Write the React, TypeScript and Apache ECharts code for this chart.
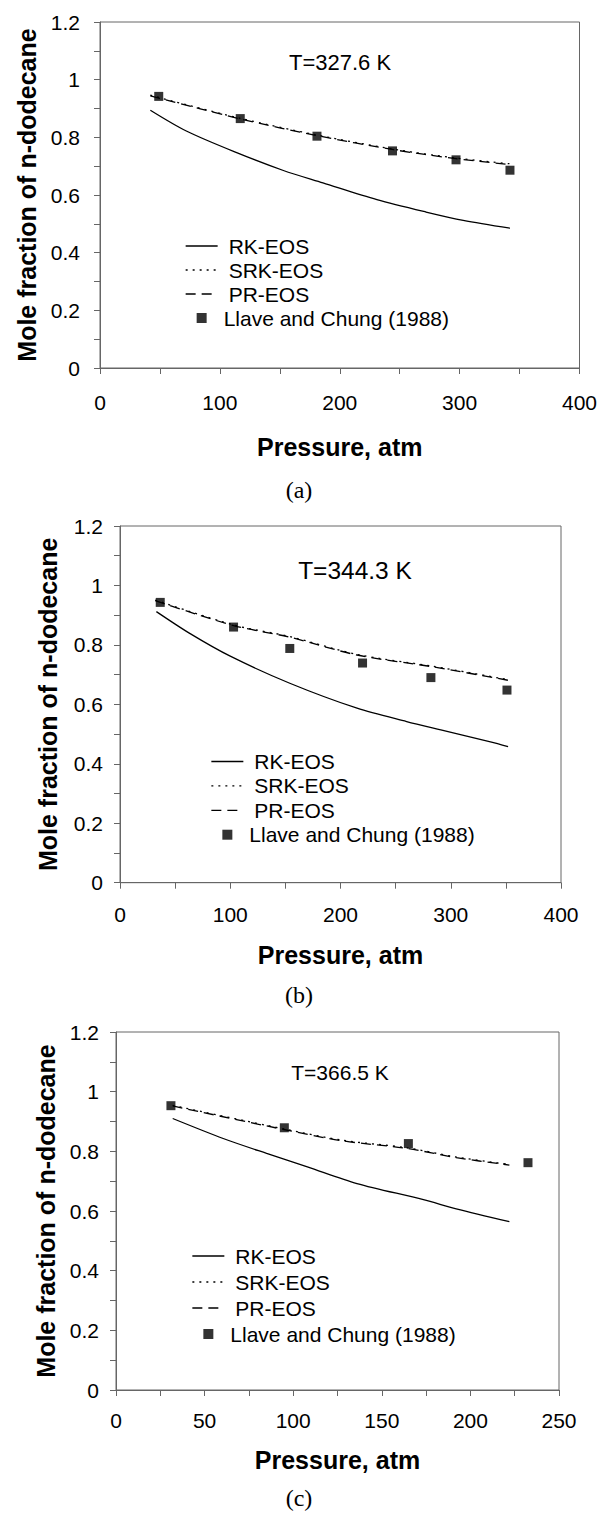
import React, { useEffect, useRef } from "react";
import * as echarts from "echarts";

const SANS = '"Liberation Sans", Arial, sans-serif';
const SERIF = '"Liberation Serif", "Times New Roman", serif';

const seriesNames = ["RK-EOS", "SRK-EOS", "PR-EOS", "Llave and Chung (1988)"];
const yTitle = "Mole fraction of n-dodecane";
const xTitle = "Pressure, atm";

// Panel (a) T = 327.6 K
const rkA = [[42, 0.894], [72, 0.822], [114, 0.747], [153, 0.685], [186, 0.642], [231, 0.584], [272, 0.541], [303, 0.512], [342, 0.485]];
const srkA = [[42, 0.946], [117, 0.866], [181, 0.808], [245, 0.759], [297, 0.728], [343, 0.708]];
const prA = [[42, 0.944], [117, 0.864], [181, 0.806], [245, 0.757], [297, 0.726], [343, 0.705]];
const expA = [[49, 0.942], [117, 0.865], [181, 0.804], [244, 0.753], [297, 0.722], [342, 0.686]];

// Panel (b) T = 344.3 K
const rkB = [[33, 0.912], [64, 0.837], [100, 0.762], [154, 0.671], [215, 0.587], [260, 0.542], [291, 0.514], [336, 0.474], [352, 0.458]];
const srkB = [[32, 0.951], [103, 0.867], [154, 0.828], [215, 0.768], [284, 0.728], [352, 0.683]];
const prB = [[32, 0.949], [103, 0.865], [154, 0.826], [215, 0.766], [284, 0.726], [352, 0.681]];
const expB = [[36.5, 0.943], [103, 0.86], [154, 0.788], [220, 0.739], [282, 0.69], [351, 0.648]];

// Panel (c) T = 366.5 K
const rkC = [[32, 0.91], [60.5, 0.843], [85, 0.793], [108, 0.748], [136, 0.692], [173.5, 0.638], [192, 0.607], [222, 0.564]];
const srkC = [[32, 0.954], [94, 0.876], [128, 0.837], [164, 0.812], [192, 0.781], [222, 0.756]];
const prC = [[32, 0.952], [94, 0.874], [128, 0.835], [164, 0.81], [192, 0.779], [222, 0.754]];
const expC = [[31, 0.953], [95, 0.879], [165, 0.826], [232.5, 0.762]];

const temps = ["T=327.6 K", "T=344.3 K", "T=366.5 K"];
const captions = ["(a)", "(b)", "(c)"];
const xMaxes = [400, 400, 250];
const xIntervals = [100, 100, 50];

const panelData = [
  { rk: rkA, srk: srkA, pr: prA, exp: expA },
  { rk: rkB, srk: srkB, pr: prB, exp: expB },
  { rk: rkC, srk: srkC, pr: prC, exp: expC },
];

// layout (pixels)
const layouts = [
  { grid: { left: 100, top: 22, width: 479.5, height: 346 }, tx: 340, ty: 62, tSize: 22, cy: 490, lgLeft: 185, lgTop: 235.5, lgGap: 3, yMargin: 20, xMargin: 24, xGap: 66, yGap: 60 },
  { grid: { left: 120, top: 526, width: 441, height: 356.7 }, tx: 355, ty: 570, tSize: 24.5, cy: 995, lgLeft: 210.7, lgTop: 751, lgGap: 3.4, yMargin: 17, xMargin: 21, xGap: 60, yGap: 60 },
  { grid: { left: 116, top: 1032, width: 443, height: 358 }, tx: 340, ty: 1072, tSize: 21, cy: 1498, lgLeft: 191.7, lgTop: 1245.5, lgGap: 5, yMargin: 17, xMargin: 20, xGap: 57, yGap: 58 },
];

const AXIS_COLOR = "#666";
const lineTypes: any[] = ["solid", [2, 5], [10, 6]];
const squareIcon = "path://M0,0L10,0L10,10L0,10Z";

function buildOption() {
  const grid: any[] = [];
  const xAxis: any[] = [];
  const yAxis: any[] = [];
  const series: any[] = [];
  const legend: any[] = [];
  const graphic: any[] = [];

  layouts.forEach((L, i) => {
    grid.push({ ...L.grid, show: true, borderColor: AXIS_COLOR, borderWidth: 1, backgroundColor: "transparent" });
    xAxis.push({
      gridIndex: i,
      type: "value",
      min: 0,
      max: xMaxes[i],
      interval: xIntervals[i],
      name: xTitle,
      nameLocation: "middle",
      nameGap: L.xGap,
      nameTextStyle: { fontFamily: SANS, fontWeight: "bold", fontSize: 25, color: "#000" },
      axisLine: { show: true, onZero: false, lineStyle: { color: AXIS_COLOR, width: 1 } },
      axisTick: { show: true, inside: false, length: 6, lineStyle: { color: AXIS_COLOR } },
      minorTick: { show: true, splitNumber: 2, length: 6, lineStyle: { color: AXIS_COLOR } },
      splitLine: { show: false },
      axisLabel: { fontFamily: SANS, fontSize: 21, color: "#000", margin: L.xMargin },
    });
    yAxis.push({
      gridIndex: i,
      type: "value",
      min: 0,
      max: 1.2,
      interval: 0.2,
      name: yTitle,
      nameLocation: "middle",
      nameGap: L.yGap,
      nameTextStyle: { fontFamily: SANS, fontWeight: "bold", fontSize: 25, color: "#000" },
      axisLine: { show: true, onZero: false, lineStyle: { color: AXIS_COLOR, width: 1 } },
      axisTick: { show: true, inside: false, length: 6, lineStyle: { color: AXIS_COLOR } },
      minorTick: { show: true, splitNumber: 2, length: 6, lineStyle: { color: AXIS_COLOR } },
      splitLine: { show: false },
      axisLabel: { fontFamily: SANS, fontSize: 21, color: "#000", margin: L.yMargin },
    });

    const d = panelData[i];
    const lines = [d.rk, d.srk, d.pr];
    lines.forEach((arr, k) => {
      series.push({
        name: seriesNames[k], type: "line", xAxisIndex: i, yAxisIndex: i, data: arr,
        symbol: "none", showSymbol: false, smooth: 0.3,
        lineStyle: { color: "#000", width: 1.3, type: lineTypes[k] },
        itemStyle: { color: "#000" }, z: 2,
      });
    });
    series.push({
      name: seriesNames[3], type: "scatter", xAxisIndex: i, yAxisIndex: i, data: d.exp,
      symbol: "rect", symbolSize: 9, itemStyle: { color: "#000" }, z: 3,
    });

    legend.push({
      orient: "vertical",
      left: L.lgLeft,
      top: L.lgTop,
      itemWidth: 32,
      itemHeight: 10,
      itemGap: L.lgGap,
      padding: 0,
      selectedMode: false,
      symbolKeepAspect: true,
      textStyle: { fontFamily: SANS, fontSize: 21, color: "#000", lineHeight: 21 },
      data: seriesNames.map((n, k) =>
        k === 3
          ? { name: n, icon: squareIcon, itemStyle: { color: "#000" }, textStyle: { padding: [0, 0, 0, 1] } }
          : {
              name: n,
              itemStyle: { color: "rgba(0,0,0,0)", borderWidth: 0, opacity: 0 },
              lineStyle: { color: "#000", width: 1.3, type: lineTypes[k], opacity: 1 },
              textStyle: { padding: [0, 0, 0, 6] },
            }
      ),
    });

    graphic.push(
      {
        type: "text", x: L.tx, y: L.ty,
        style: { text: temps[i], fontFamily: SANS, fontSize: L.tSize, fill: "#000", align: "center", verticalAlign: "middle" },
      },
      {
        type: "text", x: 299, y: L.cy,
        style: { text: captions[i], fontFamily: SERIF, fontSize: 24, fill: "#000", align: "center", verticalAlign: "middle" },
      }
    );
  });

  return {
    animation: false,
    backgroundColor: "#fff",
    textStyle: { fontFamily: SANS },
    grid, xAxis, yAxis, series, legend, graphic,
  };
}

export default function App() {
  const ref = useRef<HTMLDivElement>(null);
  useEffect(() => {
    if (!ref.current) return;
    const chart = echarts.init(ref.current, undefined, { renderer: "svg" });
    chart.setOption(buildOption() as any);
    return () => chart.dispose();
  }, []);
  return (
    <div
      ref={ref}
      style={{ position: "absolute", left: 0, top: 0, width: 601, height: 1513, background: "#fff" }}
    />
  );
}
